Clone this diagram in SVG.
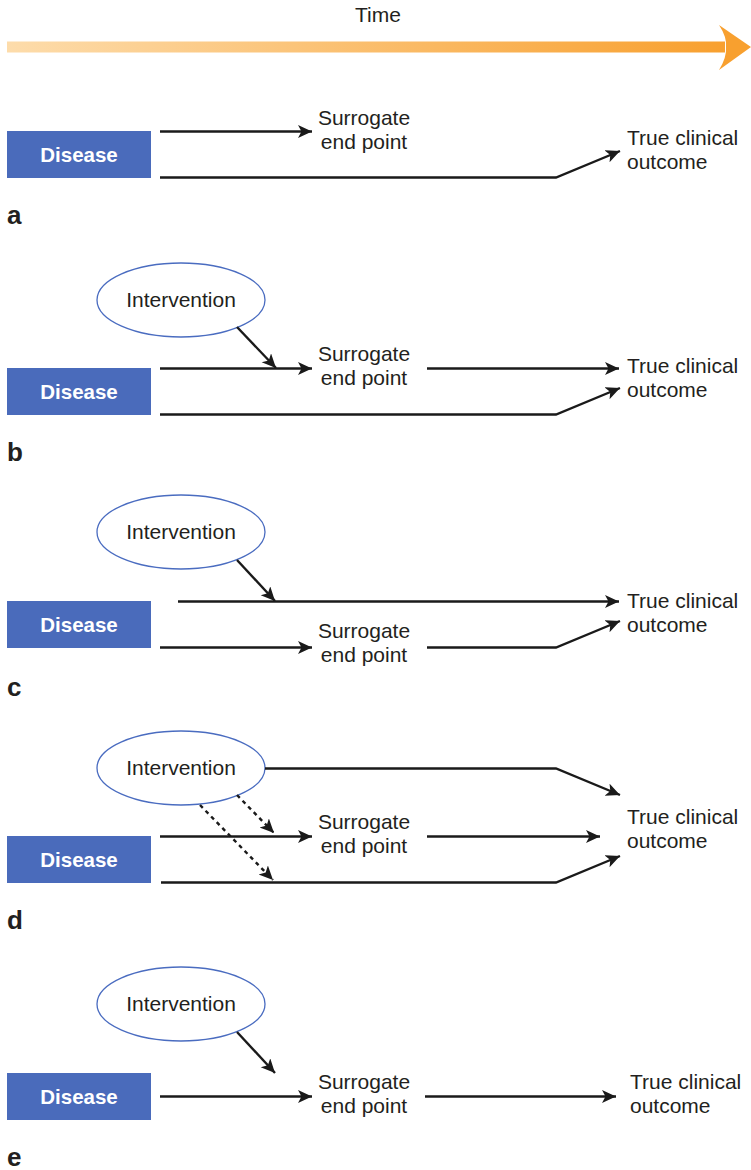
<svg xmlns="http://www.w3.org/2000/svg" width="751" height="1170" viewBox="0 0 751 1170">
  <style>
    .txt { font-family: "Liberation Sans", Arial, sans-serif; font-size: 21px; fill: #231f20; }
    .mid { text-anchor: middle; }
    .box { fill: #4a6bbb; }
    .boxlabel { font-family: "Liberation Sans", Arial, sans-serif; font-size: 20.5px; font-weight: bold; fill: #ffffff; text-anchor: middle; }
    .oval { fill: #ffffff; stroke: #4a6cc0; stroke-width: 1.3; }
    .panel { font-family: "Liberation Sans", Arial, sans-serif; font-size: 26px; font-weight: bold; fill: #231f20; }
    .link { fill: none; stroke: #1a1a1a; stroke-width: 2.4; stroke-linejoin: miter; }
    .arr { marker-end: url(#head); }
    .dash { stroke-dasharray: 4 4; }
  </style>
  <defs>
    <linearGradient id="timeGrad" x1="0" y1="0" x2="1" y2="0">
      <stop offset="0" stop-color="#fddcab"/>
      <stop offset="1" stop-color="#f8a02f"/>
    </linearGradient>
    <marker id="head" markerUnits="userSpaceOnUse" markerWidth="16" markerHeight="14" refX="14" refY="6.5" orient="auto">
      <path d="M0,0 L14,6.5 L0,13 L3.5,6.5 Z" fill="#1a1a1a"/>
    </marker>
  </defs>

  <!-- time axis -->
  <g id="time">
    <text class="txt mid" x="378" y="22">Time</text>
    <rect x="7" y="41.5" width="718" height="11" fill="url(#timeGrad)"/>
    <path d="M719,25 L751,47 L719,70 Q727,57 726,47 Q727,37 719,25 Z" fill="#f8a02f"/>
  </g>

  <!-- panel a -->
  <g id="a-disease"><rect class="box" x="7" y="131" width="144" height="47"/><text class="boxlabel" x="79" y="162">Disease</text></g>
  <g id="a-surrogate"><text class="txt mid" x="364" y="125">Surrogate</text><text class="txt mid" x="364" y="149">end point</text></g>
  <g id="a-outcome"><text class="txt" x="627" y="145">True clinical</text><text class="txt" x="627" y="169">outcome</text></g>
  <text class="panel" x="7" y="224">a</text>

  <!-- panel b -->
  <g id="b-intervention"><ellipse class="oval" cx="181" cy="300" rx="84" ry="37"/><text class="txt mid" x="181" y="307">Intervention</text></g>
  <g id="b-disease"><rect class="box" x="7" y="368" width="144" height="47"/><text class="boxlabel" x="79" y="399">Disease</text></g>
  <g id="b-surrogate"><text class="txt mid" x="364" y="361">Surrogate</text><text class="txt mid" x="364" y="385">end point</text></g>
  <g id="b-outcome"><text class="txt" x="627" y="373">True clinical</text><text class="txt" x="627" y="397">outcome</text></g>
  <text class="panel" x="7" y="461">b</text>

  <!-- panel c -->
  <g id="c-intervention"><ellipse class="oval" cx="181" cy="532" rx="84" ry="37"/><text class="txt mid" x="181" y="539">Intervention</text></g>
  <g id="c-disease"><rect class="box" x="7" y="601" width="144" height="47"/><text class="boxlabel" x="79" y="632">Disease</text></g>
  <g id="c-surrogate"><text class="txt mid" x="364" y="638">Surrogate</text><text class="txt mid" x="364" y="662">end point</text></g>
  <g id="c-outcome"><text class="txt" x="627" y="608">True clinical</text><text class="txt" x="627" y="632">outcome</text></g>
  <text class="panel" x="7" y="696">c</text>

  <!-- panel d -->
  <g id="d-intervention"><ellipse class="oval" cx="181" cy="768" rx="84" ry="37"/><text class="txt mid" x="181" y="775">Intervention</text></g>
  <g id="d-disease"><rect class="box" x="7" y="836" width="144" height="47"/><text class="boxlabel" x="79" y="867">Disease</text></g>
  <g id="d-surrogate"><text class="txt mid" x="364" y="829">Surrogate</text><text class="txt mid" x="364" y="853">end point</text></g>
  <g id="d-outcome"><text class="txt" x="627" y="824">True clinical</text><text class="txt" x="627" y="848">outcome</text></g>
  <text class="panel" x="7" y="929">d</text>

  <!-- panel e -->
  <g id="e-intervention"><ellipse class="oval" cx="181" cy="1004" rx="84" ry="37"/><text class="txt mid" x="181" y="1011">Intervention</text></g>
  <g id="e-disease"><rect class="box" x="7" y="1073" width="144" height="47"/><text class="boxlabel" x="79" y="1104">Disease</text></g>
  <g id="e-surrogate"><text class="txt mid" x="364" y="1089">Surrogate</text><text class="txt mid" x="364" y="1113">end point</text></g>
  <g id="e-outcome"><text class="txt" x="630" y="1089">True clinical</text><text class="txt" x="630" y="1113">outcome</text></g>
  <text class="panel" x="7" y="1166">e</text>

  <!-- connectors -->
  <g id="connectors">
    <!-- a -->
    <path class="link arr" d="M160,131.5 H312"/>
    <path class="link arr" d="M160,177.5 H556 L620,151"/>
    <!-- b -->
    <path class="link arr" d="M237,327 L276,368"/>
    <path class="link arr" d="M160,368.5 H312"/>
    <path class="link arr" d="M427,368.5 H619"/>
    <path class="link arr" d="M160,414.5 H556 L620,388"/>
    <!-- c -->
    <path class="link arr" d="M237,560 L275,601"/>
    <path class="link arr" d="M178,601.5 H619"/>
    <path class="link arr" d="M160,647.5 H312"/>
    <path class="link arr" d="M427,647.5 H556 L620,621"/>
    <!-- d -->
    <path class="link arr" d="M265,768.5 H556 L620,795"/>
    <path class="link arr dash" d="M237,795 L274,833"/>
    <path class="link arr dash" d="M200,805 L273,880"/>
    <path class="link arr" d="M160,836.5 H312"/>
    <path class="link arr" d="M427,836.5 H600"/>
    <path class="link arr" d="M161,882.5 H556 L620,856"/>
    <!-- e -->
    <path class="link arr" d="M237,1032 L275,1073"/>
    <path class="link arr" d="M160,1096.5 H312"/>
    <path class="link arr" d="M425,1096.5 H616"/>
  </g>
</svg>
